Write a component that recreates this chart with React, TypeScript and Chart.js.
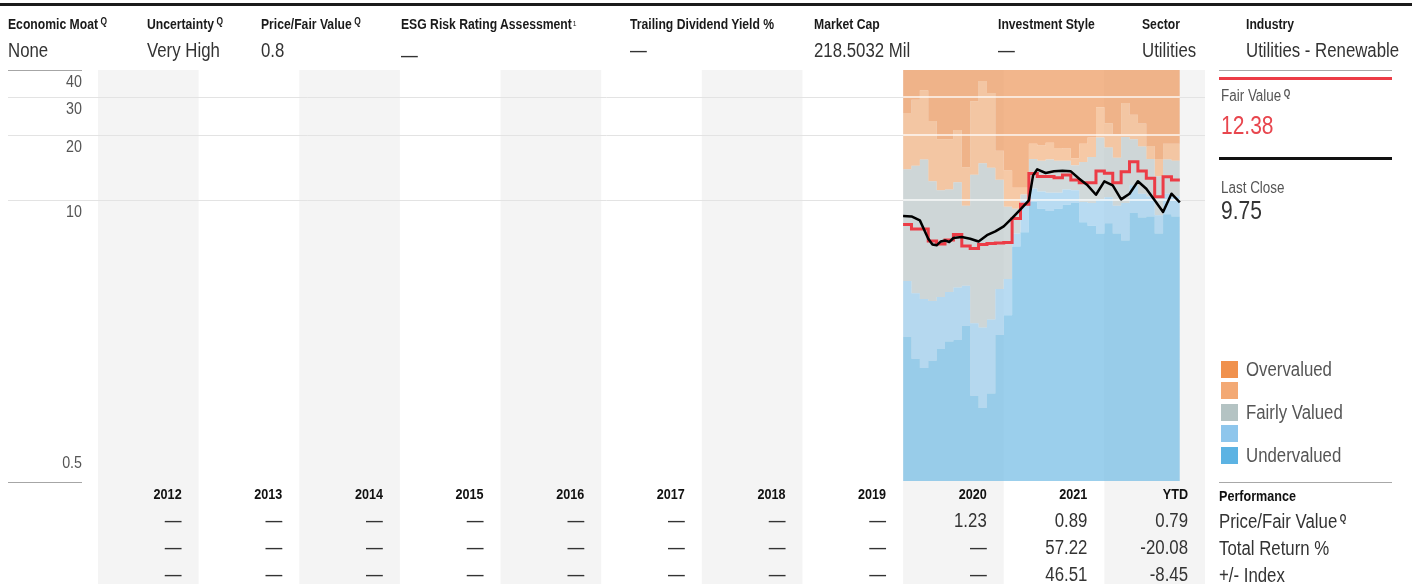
import React, { useEffect, useRef } from 'react';
import { Chart, registerables } from 'chart.js';

Chart.register(...registerables);

const FONT = '"Liberation Sans", Arial, Helvetica, sans-serif';
const SQUEEZE = 0.84;

// ---- table / axis data ----
const years = ['2012', '2013', '2014', '2015', '2016', '2017', '2018', '2019', '2020', '2021', 'YTD'];
const priceFairValueRow = ['—', '—', '—', '—', '—', '—', '—', '—', '1.23', '0.89', '0.79'];
const totalReturnRow = ['—', '—', '—', '—', '—', '—', '—', '—', '—', '57.22', '-20.08'];
const indexRow = ['—', '—', '—', '—', '—', '—', '—', '—', '—', '46.51', '-8.45'];
const yTickValues = [40, 30, 20, 10, 0.5];
const yTickLabels = ['40', '30', '20', '10', '0.5'];
const gridValues = [10, 20, 30];

// ---- monthly series, starting January 2020 ----
const seriesStartYear = '2020';
const overvaluedLine = [25.3, 29.1, 32.2, 23.2, 19.1, 19.1, 21.1, 14.2, 28.7, 35.6, 31.3, 16.9, 13.7, 11.4, 11.4, 18.2, 17.9, 18.4, 17.4, 17.3, 15.6, 18.2, 19.5, 26.9, 22.7, 20.2, 28.1, 24.8, 22.6, 17.8, 15.5, 18.2, 18.2];
const fairUpperLine = [13.9, 14.4, 15.4, 12.2, 11.1, 11.2, 12.1, 9.4, 13.1, 14.8, 14.1, 12.4, 9.3, 9.1, 10.6, 15.5, 15.2, 15.4, 15.2, 15.2, 14.5, 15.0, 15.8, 19.5, 17.5, 15.7, 19.6, 19.1, 17.7, 15.5, 12.9, 15.4, 15.2];
const fairLowerLine = [4.22, 3.70, 3.48, 3.41, 3.56, 3.75, 3.94, 4.01, 2.69, 2.57, 2.80, 3.87, 4.31, 7.0, 10.0, 11.3, 10.95, 10.8, 10.8, 11.2, 11.1, 9.8, 9.7, 10.1, 10.3, 9.4, 9.7, 11.7, 10.7, 10.4, 8.5, 10.7, 10.4];
const undervaluedLine = [2.33, 1.84, 1.67, 1.80, 2.04, 2.21, 2.25, 2.62, 1.24, 1.09, 1.27, 2.37, 2.93, 6.1, 7.1, 9.8, 9.1, 8.9, 9.1, 9.5, 9.7, 7.9, 7.6, 7.0, 7.8, 7.0, 6.5, 8.7, 8.3, 8.4, 7.0, 8.6, 8.4];
const fairValue = [7.70, 7.34, 7.34, 6.46, 6.26, 6.53, 6.92, 6.12, 5.96, 6.22, 6.29, 6.32, 6.36, 8.21, 9.55, 13.27, 12.85, 12.85, 12.68, 13.05, 12.38, 12.03, 12.03, 13.62, 13.29, 12.03, 13.52, 15.04, 13.62, 12.60, 10.36, 12.82, 12.38];
const priceMonths = [0, 1, 2, 3, 3.5, 4, 4.5, 5, 5.5, 6, 7, 8, 9, 10, 11, 12, 13, 14, 15, 15.5, 16, 17, 18, 19, 20, 21, 22, 23, 24, 25, 26, 27, 28, 29, 30, 31, 32, 33];
const priceValues = [8.43, 8.40, 8.05, 6.62, 6.22, 6.17, 6.43, 6.50, 6.39, 6.67, 6.74, 6.62, 6.43, 6.87, 7.16, 7.55, 8.25, 9.06, 9.97, 13.01, 13.88, 13.34, 13.58, 13.67, 13.58, 12.55, 11.70, 10.58, 12.21, 11.70, 10.07, 10.70, 12.21, 11.28, 9.97, 8.80, 10.70, 9.75];

const C = {
  darkOrange: 'rgba(236,151,91,0.7)',
  lightOrange: 'rgba(242,178,128,0.7)',
  grey: 'rgba(189,201,202,0.7)',
  lightBlue: 'rgba(154,204,236,0.7)',
  blue: 'rgba(112,186,228,0.7)',
  red: '#ec3c46',
  legend: ['#f0914d', '#f3a974', '#b4c3c3', '#8ec6ec', '#5cb3e3'],
};

const startIdx = years.indexOf(seriesStartYear);
const monthX = (m: number) => startIdx + m / 12;
const stepData = (vals: number[]) => [
  ...vals.map((v, i) => ({ x: monthX(i), y: v })),
  { x: monthX(vals.length), y: vals[vals.length - 1] },
];

function squeezedText(ctx: CanvasRenderingContext2D, t: string, x: number, y: number) {
  ctx.save();
  ctx.translate(x, y);
  ctx.scale(SQUEEZE, 1);
  ctx.fillText(t, 0, 0);
  ctx.restore();
}

const bgPlugin = {
  id: 'bgPlugin',
  beforeDraw(chart: any) {
    const { ctx, chartArea, scales } = chart;
    const x = scales.x;
    const y = scales.y;
    ctx.save();
    years.forEach((_, i) => {
      if (i % 2 === 0) {
        const l = x.getPixelForValue(i);
        const r = x.getPixelForValue(i + 1);
        ctx.fillStyle = '#f4f4f4';
        ctx.fillRect(l, chartArea.top, r - l, chart.height - chartArea.top);
      }
    });
    ctx.lineWidth = 1;
    gridValues.forEach((v) => {
      const py = Math.round(y.getPixelForValue(v)) + 0.5;
      ctx.strokeStyle = '#e3e3e3';
      ctx.beginPath();
      ctx.moveTo(8, py);
      ctx.lineTo(chartArea.right, py);
      ctx.stroke();
    });
    const topY = Math.round(y.getPixelForValue(40)) + 0.5;
    ctx.strokeStyle = '#a6a6a6';
    ctx.beginPath();
    ctx.moveTo(8, topY);
    ctx.lineTo(82, topY);
    ctx.stroke();
    const botY = Math.round(y.getPixelForValue(0.5)) + 1.5;
    ctx.beginPath();
    ctx.moveTo(8, botY);
    ctx.lineTo(82, botY);
    ctx.stroke();
    ctx.font = `17px ${FONT}`;
    ctx.fillStyle = '#555';
    ctx.textAlign = 'right';
    ctx.textBaseline = 'middle';
    yTickValues.forEach((v, i) => {
      const py = y.getPixelForValue(v);
      const off = v === 0.5 ? -18 : 12;
      squeezedText(ctx, yTickLabels[i], 82, py + off);
    });
    const rows = [priceFairValueRow, totalReturnRow, indexRow];
    const rowY = [521, 548, 575];
    years.forEach((yr, i) => {
      const rx = x.getPixelForValue(i + 1) - 17;
      ctx.font = `bold 15px ${FONT}`;
      ctx.fillStyle = '#111';
      squeezedText(ctx, yr, rx, 495);
      ctx.font = `20px ${FONT}`;
      ctx.fillStyle = '#333';
      rows.forEach((row, r) => squeezedText(ctx, row[i], rx, rowY[r]));
    });
    ctx.restore();
  },
};

function Txt(props: { x: number; y: number; size: number; bold?: boolean; color?: string; children: any }) {
  const { x, y, size, bold, color, children } = props;
  return (
    <div
      style={{
        position: 'absolute',
        left: x,
        top: y - size / 2,
        fontSize: size,
        lineHeight: `${size}px`,
        fontWeight: bold ? 700 : 400,
        color: color || '#333',
        whiteSpace: 'nowrap',
        transform: `scaleX(${SQUEEZE})`,
        transformOrigin: 'left center',
      }}
    >
      {children}
    </div>
  );
}

const Q = () => (
  <span style={{ fontSize: 10, fontWeight: 700, verticalAlign: 'top', marginLeft: 3, position: 'relative', top: -2 }}>Q</span>
);

export default function App() {
  const ref = useRef<HTMLCanvasElement>(null);
  useEffect(() => {
    const band = (extra: any) => ({ pointRadius: 0, borderWidth: 0, stepped: 'before', ...extra });
    const datasets: any[] = [
      band({ data: stepData(overvaluedLine), fill: 'end', backgroundColor: C.darkOrange, order: 8 }),
      band({ data: stepData(fairUpperLine), fill: 0, backgroundColor: C.lightOrange, order: 7 }),
      band({ data: stepData(fairLowerLine), fill: 1, backgroundColor: C.grey, order: 6 }),
      band({ data: stepData(undervaluedLine), fill: 2, backgroundColor: C.lightBlue, order: 5 }),
      band({ data: stepData(undervaluedLine), fill: 'start', backgroundColor: C.blue, order: 4 }),
      ...gridValues.map((v) => ({
        data: [{ x: monthX(0), y: v }, { x: monthX(overvaluedLine.length), y: v }],
        borderColor: 'rgba(255,255,255,0.9)',
        borderWidth: 1.5,
        pointRadius: 0,
        fill: false,
        order: 3,
      })),
      band({ data: stepData(fairValue), fill: false, borderColor: C.red, borderWidth: 3, order: 1 }),
      {
        data: priceMonths.map((m, i) => ({ x: monthX(m), y: priceValues[i] })),
        borderColor: '#000',
        borderWidth: 2.5,
        pointRadius: 0,
        fill: false,
        tension: 0,
        borderJoinStyle: 'round',
        order: 0,
      },
    ];
    const chart = new Chart(ref.current as HTMLCanvasElement, {
      type: 'line',
      data: { datasets },
      options: {
        responsive: false,
        animation: false,
        devicePixelRatio: 1,
        layout: { padding: { left: 98, right: 207, top: 70, bottom: 103 } },
        scales: {
          x: { type: 'linear', min: 0, max: years.length, display: false },
          y: { type: 'logarithmic', min: 0.5, max: 40, display: false },
        },
        plugins: { legend: { display: false }, tooltip: { enabled: false } },
      },
      plugins: [bgPlugin],
    } as any);
    return () => chart.destroy();
  }, []);

  const headers = [
    { x: 8, label: 'Economic Moat', q: true, value: 'None' },
    { x: 147, label: 'Uncertainty', q: true, value: 'Very High' },
    { x: 261, label: 'Price/Fair Value', q: true, value: '0.8' },
    { x: 401, label: 'ESG Risk Rating Assessment', sup: '1', value: '—', low: true },
    { x: 630, label: 'Trailing Dividend Yield %', value: '—' },
    { x: 814, label: 'Market Cap', value: '218.5032 Mil' },
    { x: 998, label: 'Investment Style', value: '—' },
    { x: 1142, label: 'Sector', value: 'Utilities' },
    { x: 1246, label: 'Industry', value: 'Utilities - Renewable' },
  ];
  const legend = [
    { y: 369, label: 'Overvalued' },
    { y: 390, label: '' },
    { y: 412, label: 'Fairly Valued' },
    { y: 433, label: '' },
    { y: 455, label: 'Undervalued' },
  ];

  return (
    <div style={{ position: 'absolute', left: 0, top: 0, width: 1412, height: 584, overflow: 'hidden', background: '#fff', fontFamily: FONT }}>
      <canvas ref={ref} width={1412} height={584} style={{ position: 'absolute', left: 0, top: 0 }} />
      <div style={{ position: 'absolute', left: 0, top: 3, width: 1412, height: 3, background: '#1b1b1b' }} />
      {headers.map((h) => (
        <React.Fragment key={h.label}>
          <Txt x={h.x} y={24} size={14.5} bold color="#1a1a1a">
            {h.label}
            {h.q ? <Q /> : null}
            {h.sup ? <span style={{ fontSize: 8, fontWeight: 400, verticalAlign: 'top', marginLeft: 1 }}>{h.sup}</span> : null}
          </Txt>
          <Txt x={h.x} y={h.low ? 55 : 50} size={20} color="#333">{h.value}</Txt>
        </React.Fragment>
      ))}
      <div style={{ position: 'absolute', left: 1219, top: 70, width: 173, height: 1, background: '#a8a8a8' }} />
      <div style={{ position: 'absolute', left: 1219, top: 77, width: 173, height: 3, background: C.red }} />
      <Txt x={1221} y={96} size={16} color="#555">Fair Value<Q /></Txt>
      <Txt x={1221} y={125} size={25} color="#e8464e">12.38</Txt>
      <div style={{ position: 'absolute', left: 1219, top: 157, width: 173, height: 3, background: '#111' }} />
      <Txt x={1221} y={188} size={16} color="#555">Last Close</Txt>
      <Txt x={1221} y={210} size={25} color="#333">9.75</Txt>
      {legend.map((l, i) => (
        <React.Fragment key={i}>
          <div style={{ position: 'absolute', left: 1221, top: l.y - 8, width: 17, height: 17, background: C.legend[i] }} />
          {l.label ? <Txt x={1246} y={l.y} size={20} color="#555">{l.label}</Txt> : null}
        </React.Fragment>
      ))}
      <div style={{ position: 'absolute', left: 1219, top: 482, width: 173, height: 1, background: '#a8a8a8' }} />
      <Txt x={1219} y={495} size={15} bold color="#111">Performance</Txt>
      <Txt x={1219} y={521} size={20} color="#333">Price/Fair Value<Q /></Txt>
      <Txt x={1219} y={548} size={20} color="#333">Total Return %</Txt>
      <Txt x={1219} y={575} size={20} color="#333">+/- Index</Txt>
    </div>
  );
}
